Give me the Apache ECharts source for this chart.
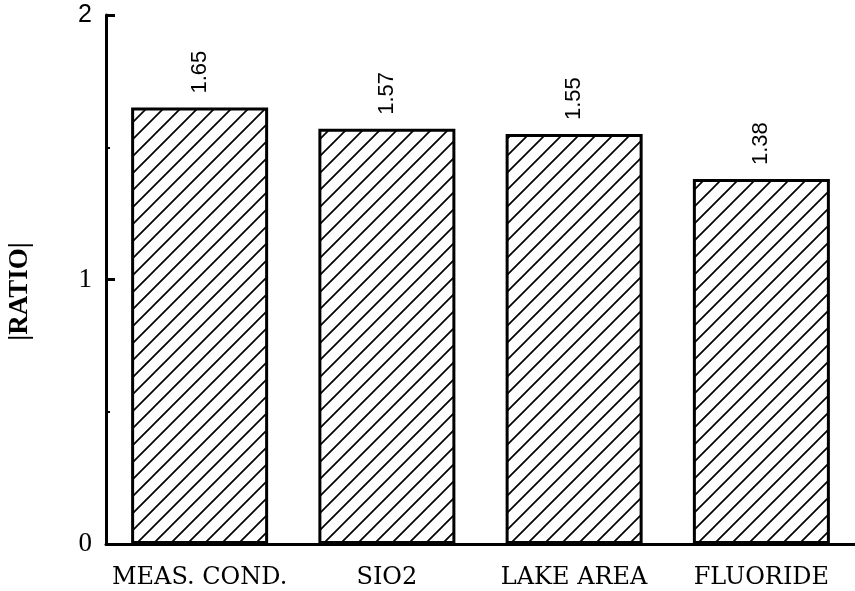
<!DOCTYPE html>
<html>
<head>
<meta charset="utf-8">
<script src="https://cdn.jsdelivr.net/npm/echarts@6/dist/echarts.min.js"></script>
<style>
html,body{margin:0;padding:0;background:#fff;}
#chart{width:855px;height:591px;}
</style>
</head>
<body>
<div id="chart"></div>
<script>
var categories = ['MEAS. COND.', 'SIO2', 'LAKE AREA', 'FLUORIDE'];
var ratioValues = [1.65, 1.57, 1.55, 1.38];
var valueLabels = ['1.65', '1.57', '1.55', '1.38'];

function makeHatch() {
  var s = 17;
  var c = document.createElement('canvas');
  c.width = s; c.height = s;
  var ctx = c.getContext('2d');
  ctx.fillStyle = '#fff';
  ctx.fillRect(0, 0, s, s);
  ctx.strokeStyle = '#000';
  ctx.lineWidth = 1.7;
  ctx.beginPath();
  ctx.moveTo(-2, s + 2); ctx.lineTo(s + 2, -2);
  ctx.moveTo(-2, 2); ctx.lineTo(2, -2);
  ctx.moveTo(s - 2, s + 2); ctx.lineTo(s + 2, s - 2);
  ctx.stroke();
  return c;
}

var chart = echarts.init(document.getElementById('chart'));
chart.setOption({
  animation: false,
  backgroundColor: '#fff',
  grid: { left: 106, right: 0, top: 15, bottom: 47, containLabel: false, outerBoundsMode: 'none' },
  xAxis: {
    type: 'category',
    data: categories,
    axisLine: { lineStyle: { color: '#000', width: 3 } },
    axisTick: { show: false },
    axisLabel: {
      interval: 0,
      margin: 22,
      color: '#000',
      fontFamily: 'DejaVu Serif',
      fontSize: 24,
      hideOverlap: false
    }
  },
  yAxis: {
    type: 'value',
    min: 0, max: 2, interval: 1,
    name: '|RATIO|',
    nameLocation: 'middle',
    nameGap: 72,
    nameRotate: 90,
    nameTextStyle: {
      color: '#000',
      fontFamily: 'Liberation Serif',
      fontWeight: 'bold',
      fontSize: 27,
      padding: [0, 24, 0, 0]
    },
    axisLine: { show: true, lineStyle: { color: '#000', width: 3 } },
    axisTick: { show: true, inside: true, length: 9, lineStyle: { color: '#000', width: 3 } },
    minorTick: { show: true, splitNumber: 2, length: 4, lineStyle: { color: '#000', width: 2 } },
    splitLine: { show: false },
    axisLabel: {
      margin: 14,
      color: '#000',
      formatter: function (v) { return v === 2 ? '{s|2}' : '{r|' + v + '}'; },
      rich: {
        s: { fontFamily: 'Liberation Sans', fontSize: 25, color: '#000' },
        r: { fontFamily: 'Liberation Serif', fontSize: 27, color: '#000' }
      }
    }
  },
  series: [{
    type: 'bar',
    data: ratioValues,
    barWidth: 137,
    itemStyle: {
      color: { image: makeHatch(), repeat: 'repeat' },
      borderColor: '#000',
      borderWidth: 3
    },
    label: {
      show: true,
      position: 'top',
      distance: 14,
      rotate: 90,
      align: 'left',
      verticalAlign: 'middle',
      color: '#000',
      fontFamily: 'Liberation Sans',
      fontSize: 22,
      formatter: function (p) { return valueLabels[p.dataIndex]; }
    }
  }]
});
</script>
</body>
</html>
